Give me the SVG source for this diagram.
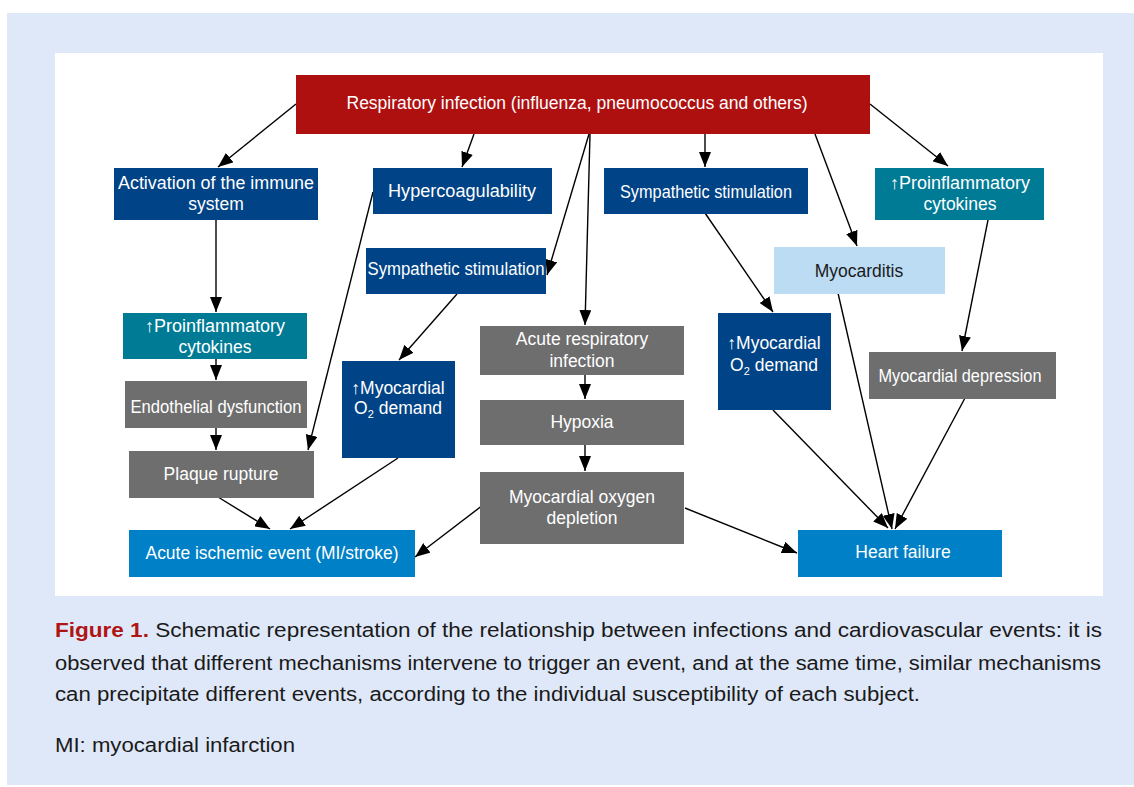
<svg xmlns="http://www.w3.org/2000/svg" width="1134" height="787" viewBox="0 0 1134 787">
<style>
.n text{font-family:"Liberation Sans",Arial,sans-serif;font-size:17.5px;fill:#ffffff;text-anchor:middle}
.red{fill:#ae1010}
.dblue{fill:#004386}
.teal{fill:#007b96}
.gray{fill:#6e6e6e}
.lblue{fill:#bcdcf4}
.bblue{fill:#0080c6}
.c line{stroke:#000;stroke-width:1.4;marker-end:url(#ah)}
.cap{font-family:"Liberation Sans",Arial,sans-serif;font-size:20px;fill:#1a1a1a}
.sub{font-size:11px}
</style>
<defs>
<marker id="ah" markerUnits="userSpaceOnUse" markerWidth="15" markerHeight="12" refX="15" refY="6" orient="auto">
<path d="M0,0 L15,6 L0,12 z" fill="#000"/>
</marker>
</defs>
<rect x="0" y="0" width="1134" height="787" fill="#ffffff"/>
<rect x="7" y="13" width="1127" height="772" fill="#dfe8f8"/>
<rect x="55" y="53" width="1048" height="543" fill="#ffffff"/>

<g class="c" id="connectors">
<line x1="296" y1="104" x2="218" y2="167"/>
<line x1="474" y1="134" x2="462" y2="167"/>
<line x1="589" y1="134" x2="547" y2="275"/>
<line x1="590" y1="134" x2="585" y2="325"/>
<line x1="705" y1="134" x2="705" y2="167"/>
<line x1="815" y1="134" x2="857" y2="246"/>
<line x1="870" y1="104" x2="948" y2="166"/>
<line x1="216" y1="220" x2="216" y2="312"/>
<line x1="216" y1="359" x2="216" y2="380"/>
<line x1="216" y1="428" x2="216" y2="450"/>
<line x1="373" y1="192" x2="308" y2="450"/>
<line x1="457" y1="294" x2="399" y2="360"/>
<line x1="218" y1="497" x2="270" y2="529"/>
<line x1="398" y1="458" x2="290" y2="529"/>
<line x1="483" y1="505" x2="415" y2="557"/>
<line x1="685" y1="508" x2="797" y2="553"/>
<line x1="585" y1="375" x2="585" y2="399"/>
<line x1="585" y1="445" x2="585" y2="471"/>
<line x1="705" y1="213" x2="773" y2="312"/>
<line x1="988" y1="220" x2="962" y2="351"/>
<line x1="838" y1="293" x2="892" y2="529"/>
<line x1="773" y1="410" x2="888" y2="528"/>
<line x1="965" y1="398" x2="895" y2="529"/>
</g>

<g class="n" id="n-resp">
<rect class="red" x="296" y="75" width="574" height="59"/>
<text x="577" y="109" textLength="461" lengthAdjust="spacingAndGlyphs">Respiratory infection (influenza, pneumococcus and others)</text>
</g>
<g class="n" id="n-immune">
<rect class="dblue" x="114" y="168" width="204" height="52"/>
<text x="216" y="189" textLength="196" lengthAdjust="spacingAndGlyphs">Activation of the immune</text>
<text x="216" y="210">system</text>
</g>
<g class="n" id="n-hyper">
<rect class="dblue" x="373" y="168" width="179" height="46"/>
<text x="462" y="197" textLength="148" lengthAdjust="spacingAndGlyphs">Hypercoagulability</text>
</g>
<g class="n" id="n-symp1">
<rect class="dblue" x="366" y="248" width="180" height="46"/>
<text x="456" y="275" textLength="177" lengthAdjust="spacingAndGlyphs">Sympathetic stimulation</text>
</g>
<g class="n" id="n-symp2">
<rect class="dblue" x="604" y="168" width="204" height="46"/>
<text x="706" y="198" textLength="172" lengthAdjust="spacingAndGlyphs">Sympathetic stimulation</text>
</g>
<g class="n" id="n-cyto2">
<rect class="teal" x="875" y="168" width="169" height="52"/>
<text x="960" y="189" textLength="140" lengthAdjust="spacingAndGlyphs">↑Proinflammatory</text>
<text x="960" y="210">cytokines</text>
</g>
<g class="n" id="n-myocarditis">
<rect class="lblue" x="774" y="247" width="171" height="47"/>
<text x="859" y="277" style="fill:#1a1a1a">Myocarditis</text>
</g>
<g class="n" id="n-cyto1">
<rect class="teal" x="123" y="313" width="184" height="46"/>
<text x="215" y="332" textLength="140" lengthAdjust="spacingAndGlyphs">↑Proinflammatory</text>
<text x="215" y="353">cytokines</text>
</g>
<g class="n" id="n-endo">
<rect class="gray" x="125" y="381" width="182" height="47"/>
<text x="216" y="413" textLength="171" lengthAdjust="spacingAndGlyphs">Endothelial dysfunction</text>
</g>
<g class="n" id="n-plaque">
<rect class="gray" x="129" y="451" width="185" height="47"/>
<text x="221" y="480">Plaque rupture</text>
</g>
<g class="n" id="n-o2a">
<rect class="dblue" x="342" y="361" width="113" height="97"/>
<text x="398" y="394">↑Myocardial</text>
<text x="398" y="414">O<tspan class="sub" dy="4">2</tspan><tspan dy="-4"> demand</tspan></text>
</g>
<g class="n" id="n-ischemic">
<rect class="bblue" x="129" y="530" width="286" height="47"/>
<text x="272" y="559" textLength="253" lengthAdjust="spacingAndGlyphs">Acute ischemic event (MI/stroke)</text>
</g>
<g class="n" id="n-acuteresp">
<rect class="gray" x="480" y="326" width="204" height="49"/>
<text x="582" y="345">Acute respiratory</text>
<text x="582" y="367">infection</text>
</g>
<g class="n" id="n-hypoxia">
<rect class="gray" x="480" y="400" width="204" height="45"/>
<text x="582" y="428">Hypoxia</text>
</g>
<g class="n" id="n-depletion">
<rect class="gray" x="480" y="472" width="204" height="72"/>
<text x="582" y="503">Myocardial oxygen</text>
<text x="582" y="524">depletion</text>
</g>
<g class="n" id="n-o2b">
<rect class="dblue" x="718" y="313" width="113" height="97"/>
<text x="774" y="349">↑Myocardial</text>
<text x="774" y="371">O<tspan class="sub" dy="4">2</tspan><tspan dy="-4"> demand</tspan></text>
</g>
<g class="n" id="n-depression">
<rect class="gray" x="869" y="352" width="187" height="47"/>
<text x="960" y="382" textLength="163" lengthAdjust="spacingAndGlyphs">Myocardial depression</text>
</g>
<g class="n" id="n-hf">
<rect class="bblue" x="798" y="530" width="204" height="47"/>
<text x="903" y="558">Heart failure</text>
</g>

<g id="caption">
<text class="cap" x="55" y="637" textLength="1047" lengthAdjust="spacingAndGlyphs"><tspan font-weight="bold" fill="#b01515">Figure 1.</tspan> Schematic representation of the relationship between infections and cardiovascular events: it is</text>
<text class="cap" x="55" y="670" textLength="1046" lengthAdjust="spacingAndGlyphs">observed that different mechanisms intervene to trigger an event, and at the same time, similar mechanisms</text>
<text class="cap" x="55" y="701" textLength="865" lengthAdjust="spacingAndGlyphs">can precipitate different events, according to the individual susceptibility of each subject.</text>
<text class="cap" x="55" y="752" textLength="240" lengthAdjust="spacingAndGlyphs">MI: myocardial infarction</text>
</g>
</svg>
